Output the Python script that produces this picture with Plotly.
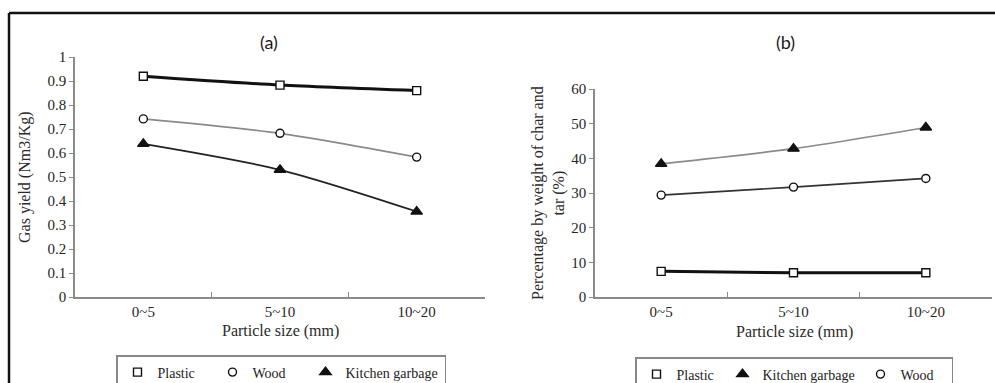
import plotly.graph_objects as go

W, H = 995, 383

categories = ["0~5", "5~10", "10~20"]

# Panel (a): gas yield (Nm3/Kg)
a_plastic = [0.92, 0.883, 0.86]
a_wood = [0.742, 0.682, 0.583]
a_kitchen = [0.638, 0.530, 0.356]

# Panel (b): percentage by weight of char and tar (%)
b_plastic = [7.4, 7.0, 7.0]
b_kitchen = [38.4, 42.8, 48.9]
b_wood = [29.4, 31.7, 34.2]

a_yticks = [0, 0.1, 0.2, 0.3, 0.4, 0.5, 0.6, 0.7, 0.8, 0.9, 1]
a_yticktext = ["0", "0.1", "0.2", "0.3", "0.4", "0.5", "0.6", "0.7", "0.8", "0.9", "1"]
b_yticks = [0, 10, 20, 30, 40, 50, 60]

SERIF = "Liberation Serif"


def px(x):
    return x / W


def py(y):
    return 1 - y / H


fig = go.Figure()

series = [
    # (name, values, xaxis, yaxis, line color, line width, symbol, marker fill, legend, marker size, legend width)
    ("Plastic", a_plastic, "x", "y", "#111111", 3, "square", "white", "legend", 8, 50),
    ("Wood", a_wood, "x", "y", "#8a8a8a", 1.7, "circle", "white", "legend", 8, 48),
    ("Kitchen garbage", a_kitchen, "x", "y", "#222222", 1.7, "triangle-up", "#111111", "legend", 10, 94),
    ("Plastic", b_plastic, "x2", "y2", "#111111", 3, "square", "white", "legend2", 8, 41),
    ("Kitchen garbage", b_kitchen, "x2", "y2", "#8a8a8a", 1.7, "triangle-up", "#111111", "legend2", 10, 93),
    ("Wood", b_wood, "x2", "y2", "#333333", 1.7, "circle", "white", "legend2", 8, 46),
]

for name, vals, xa, ya, lc, lw, sym, fill, leg, ms, lgw in series:
    fig.add_trace(go.Scatter(
        x=categories, y=vals, xaxis=xa, yaxis=ya, mode="lines",
        line=dict(color=lc, width=lw, shape="spline", smoothing=0.8),
        showlegend=False, hoverinfo="skip",
    ))
for name, vals, xa, ya, lc, lw, sym, fill, leg, ms, lgw in series:
    fig.add_trace(go.Scatter(
        x=categories, y=vals, xaxis=xa, yaxis=ya, mode="markers", name=name,
        marker=dict(symbol=sym, size=ms, color=fill, line=dict(color="#111111", width=1.4)),
        legend=leg, legendwidth=lgw, showlegend=True,
    ))

axis_common = dict(
    showgrid=False, zeroline=False, showline=True, linecolor="#8a8a8a", linewidth=1.6,
    tickfont=dict(family=SERIF, size=15, color="#262626"),
)

legend_common = dict(xanchor="left", yanchor="top", orientation="h",
                     bgcolor="white", bordercolor="#888888", borderwidth=1.5,
                     font=dict(family=SERIF, size=14, color="#222222"),
                     entrywidthmode="pixels", itemwidth=30)

fig.update_layout(
    width=W, height=H,
    margin=dict(l=0, r=0, t=0, b=0, autoexpand=False),
    paper_bgcolor="white", plot_bgcolor="white",
    xaxis=dict(domain=[px(75), px(485)], anchor="y", type="category", range=[-0.5, 2.5],
               tickson="boundaries", ticks="inside", ticklen=5, tickcolor="#8a8a8a", tickwidth=1.4,
               **axis_common),
    yaxis=dict(domain=[py(297), py(57)], anchor="x", range=[0, 1], tickvals=a_yticks,
               ticktext=a_yticktext, ticks="outside", ticklen=4, tickcolor="#8a8a8a", tickwidth=1.4,
               **axis_common),
    xaxis2=dict(domain=[px(595), px(992)], anchor="y2", type="category", range=[-0.5, 2.5],
                tickson="boundaries", ticks="inside", ticklen=5, tickcolor="#8a8a8a", tickwidth=1.4,
                **axis_common),
    yaxis2=dict(domain=[py(297), py(89)], anchor="x2", range=[0, 60], tickvals=b_yticks,
                ticks="outside", ticklen=4, tickcolor="#8a8a8a", tickwidth=1.4,
                **axis_common),
    legend=dict(x=px(116), y=py(355), **legend_common),
    legend2=dict(x=px(635), y=py(357), **legend_common),
    showlegend=True,
)

ann_font = dict(family=SERIF, size=16, color="#2a2a2a")
title_font = dict(family="Lato", size=18, color="#1a1a1a")
annotations = [
    dict(text="(a)", x=px(269), y=py(42), font=title_font),
    dict(text="(b)", x=px(785), y=py(42), font=title_font),
    dict(text="Gas yield (Nm3/Kg)", x=px(25), y=py(177), textangle=-90, font=ann_font),
    dict(text="Particle size (mm)", x=px(280), y=py(331), font=ann_font),
    dict(text="Percentage by weight of char and<br>tar (%)", x=px(548), y=py(193),
         textangle=-90, font=ann_font),
    dict(text="Particle size (mm)", x=px(794), y=py(332), font=ann_font),
]
for a in annotations:
    a.update(xref="paper", yref="paper", showarrow=False, xanchor="center", yanchor="middle")
fig.update_layout(annotations=annotations)

# outer frame (top and left edges)
fig.add_shape(type="line", xref="paper", yref="paper", x0=px(9), x1=1.0, y0=py(13), y1=py(13),
              line=dict(color="#111111", width=2.5))
fig.add_shape(type="line", xref="paper", yref="paper", x0=px(9), x1=px(9), y0=py(13), y1=0,
              line=dict(color="#111111", width=2.5))

fig.write_html("out.html")
